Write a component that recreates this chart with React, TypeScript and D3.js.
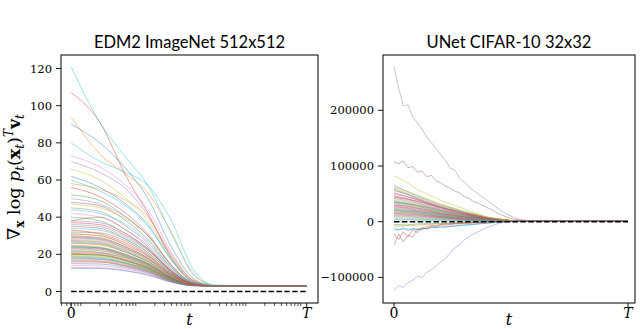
import React from 'react';
import * as d3 from 'd3';

// matplotlib tab10 cycle
const palette = [
  '#1f77b4', '#ff7f0e', '#2ca02c', '#d62728', '#9467bd',
  '#8c564b', '#e377c2', '#7f7f7f', '#bcbd22', '#17becf',
];

// --- EDM2 ImageNet 512x512 (log time axis) ---
const edmTimes = [0.006, 0.02, 0.06, 0.15, 0.4, 1, 2.5, 115];
const edmLines = [
  [90, 80, 66, 50, 24, 7, 3, 3],
  [94, 74, 63, 53, 32, 9, 3.2, 3],
  [52, 49, 40, 30, 14, 4.5, 3, 3],
  [107, 91, 62, 42, 18, 5.5, 3, 3],
  [70, 64, 55, 41, 19, 6, 3, 3],
  [48, 46, 38, 28, 13, 4.5, 3, 3],
  [73, 67, 57, 44, 21, 6, 3, 3],
  [45, 43, 35, 26, 12, 4.3, 3, 3],
  [66, 60, 50, 38, 18, 5.5, 3, 3],
  [121, 91, 72, 57, 31, 10, 3.3, 3],
  [62, 56, 47, 36, 17, 5, 3, 3],
  [58, 55, 49, 40, 20, 6, 3, 3],
  [40, 38, 31, 23, 11, 4, 3, 3],
  [56, 51, 42, 31, 14, 4.6, 3, 3],
  [38, 37, 31, 23, 10.5, 4, 3, 3],
  [35, 34, 28, 21, 10, 4, 3, 3],
  [42, 40, 33, 25, 11.5, 4.2, 3, 3],
  [31, 30, 25, 19, 9, 3.8, 3, 3],
  [47, 45, 39, 30, 14, 4.6, 3, 3],
  [80, 70, 64, 57, 38, 12, 3.4, 3],
  [29, 28, 23, 17.5, 8.5, 3.6, 3, 3],
  [25, 24, 20, 15, 7.5, 3.5, 3, 3],
  [22, 21, 18, 13.5, 7, 3.4, 3, 3],
  [33, 31, 26, 19.5, 9.5, 3.9, 3, 3],
  [27, 26, 21.5, 16, 8, 3.5, 3, 3],
  [20, 19.5, 16.5, 12.5, 6.5, 3.3, 3, 3],
  [24, 23, 19, 14.5, 7.3, 3.4, 3, 3],
  [36, 35, 29, 22, 10.5, 4, 3, 3],
  [26, 25, 21, 15.5, 7.7, 3.5, 3, 3],
  [44, 42, 36, 27, 12.5, 4.3, 3, 3],
  [18, 17.5, 15, 11.5, 6, 3.3, 3, 3],
  [21, 20.5, 17, 13, 6.8, 3.4, 3, 3],
  [30, 29, 24, 18, 8.8, 3.7, 3, 3],
  [16, 15.8, 13.5, 10.5, 5.6, 3.2, 3, 3],
  [23, 22, 18.5, 14, 7.2, 3.4, 3, 3],
  [32, 31.5, 27, 20, 9.5, 3.8, 3, 3],
  [14, 13.8, 12, 9.5, 5.2, 3.2, 3, 3],
  [19, 18.5, 15.5, 12, 6.2, 3.3, 3, 3],
  [28, 27, 22.5, 17, 8.3, 3.6, 3, 3],
  [34, 33, 28, 21, 10, 3.9, 3, 3],
  [12.5, 12.4, 11, 8.8, 5, 3.1, 3, 3],
  [17, 16.5, 14, 11, 5.8, 3.2, 3, 3],
  [24.5, 23.5, 19.5, 14.8, 7.4, 3.4, 3, 3],
  [20.5, 20, 16.8, 12.8, 6.6, 3.3, 3, 3],
  [50, 47, 40, 30, 14, 4.5, 3, 3],
  [38, 40, 33, 24, 11, 4, 3, 3],
  [13, 12.8, 11.3, 9, 5.1, 3.1, 3, 3],
  [27.5, 26.5, 22, 16.5, 8.1, 3.5, 3, 3],
  [22.5, 22, 18.5, 14, 7, 3.4, 3, 3],
  [26.5, 25.5, 21.2, 16, 7.9, 3.5, 3, 3],
  [15, 14.8, 12.8, 10, 5.4, 3.2, 3, 3],
  [31, 30, 25, 19, 9.2, 3.8, 3, 3],
  [18.5, 18, 15.2, 11.8, 6.1, 3.3, 3, 3],
  [37, 36, 30, 22.5, 10.8, 4, 3, 3],
  [21.5, 21, 17.6, 13.4, 6.9, 3.4, 3, 3],
  [23.5, 22.8, 19, 14.4, 7.2, 3.4, 3, 3],
  [28.5, 27.5, 23, 17.3, 8.5, 3.6, 3, 3],
  [16.5, 16.2, 13.8, 10.8, 5.8, 3.2, 3, 3],
  [19.5, 19, 16, 12.2, 6.3, 3.3, 3, 3],
  [60, 54, 46, 35, 17, 5, 3, 3],
  [24, 23.5, 19.8, 15, 7.4, 3.4, 3, 3],
  [26, 25.3, 21, 16, 7.9, 3.5, 3, 3],
  [20, 19.6, 16.5, 12.6, 6.5, 3.3, 3, 3],
  [29.5, 28.5, 23.8, 18, 8.7, 3.7, 3, 3],
  [17.5, 17.2, 14.5, 11.2, 5.9, 3.2, 3, 3],
];
const edmYTicks = [0, 20, 40, 60, 80, 100, 120];
const edmT0 = 0.006;
const edmT = 115;

// --- UNet CIFAR-10 32x32 (linear time axis, values in thousands) ---
const unetTimes = [0, 0.05, 0.1, 0.15, 0.2, 0.3, 0.4, 0.5, 1];
const unetLines = [
  [65, 55, 46, 38, 30, 18, 8, 2, 1.5],
  [60, 52, 44, 36, 29, 17, 7, 2, 1.5],
  [56, 50, 42, 34, 27, 16, 7, 2, 1.5],
  [52, 46, 39, 33, 26, 15, 6, 1.8, 1.5],
  [50, 45, 40, 32, 25, 14, 6, 1.8, 1.5],
  [47, 42, 36, 30, 23, 13, 5.5, 1.8, 1.5],
  [45, 40, 34, 28, 22, 12.5, 5, 1.7, 1.5],
  [42, 38, 33, 27, 21, 12, 5, 1.7, 1.5],
  [40, 36, 31, 26, 20, 11, 4.5, 1.7, 1.5],
  [38, 34, 30, 25, 19, 10.5, 4.5, 1.6, 1.5],
  [36, 33, 28, 23, 18, 10, 4, 1.6, 1.5],
  [34, 31, 27, 22, 17, 9.5, 4, 1.6, 1.5],
  [32, 29, 25, 21, 16, 9, 3.8, 1.6, 1.5],
  [30, 28, 24, 20, 15, 8.5, 3.6, 1.6, 1.5],
  [29, 26, 23, 19, 14.5, 8, 3.4, 1.5, 1.5],
  [27, 25, 21, 18, 14, 7.5, 3.2, 1.5, 1.5],
  [26, 23, 20, 17, 13, 7, 3, 1.5, 1.5],
  [24, 22, 19, 16, 12, 6.8, 3, 1.5, 1.5],
  [23, 21, 18, 15, 11.5, 6.5, 2.8, 1.5, 1.5],
  [21, 19, 17, 14, 11, 6, 2.7, 1.5, 1.5],
  [20, 18, 16, 13, 10, 5.7, 2.6, 1.5, 1.5],
  [18, 17, 15, 12, 9.5, 5.4, 2.5, 1.5, 1.5],
  [17, 16, 14, 11.5, 9, 5, 2.4, 1.5, 1.5],
  [15, 14, 12.5, 10.5, 8, 4.6, 2.3, 1.5, 1.5],
  [14, 13, 11.5, 9.5, 7.5, 4.3, 2.2, 1.5, 1.5],
  [12, 11.5, 10, 8.5, 6.8, 4, 2.1, 1.5, 1.5],
  [11, 10, 9, 7.5, 6, 3.6, 2, 1.5, 1.5],
  [9, 8.5, 7.5, 6.5, 5.2, 3.2, 1.9, 1.5, 1.5],
  [7, 6.8, 6, 5.2, 4.3, 2.8, 1.8, 1.5, 1.5],
  [5, 5, 4.5, 4, 3.5, 2.5, 1.7, 1.5, 1.5],
  [3, 3.2, 3, 2.8, 2.6, 2, 1.6, 1.5, 1.5],
  [-8, -7, -6, -5, -4, -2, 0, 1.2, 1.5],
  [-5, -6, -4, -3.5, -3, -1.5, 0.5, 1.3, 1.5],
  [44, 41, 37, 31, 25, 15, 6.5, 2, 1.5],
  [58, 50, 41, 33, 26, 14, 5, 1.8, 1.5],
  [35, 32, 29, 25, 20, 12, 5, 1.7, 1.5],
  [28, 24, 20, 16, 12, 6, 2.5, 1.5, 1.5],
  [22, 20, 18, 15.5, 12.5, 7, 3, 1.5, 1.5],
  [62, 56, 48, 40, 32, 19, 8, 2.2, 1.5],
  [-15, -13, -14, -11, -10, -6, -2, 1, 1.5],
];
// a few outlier trajectories, sampled more finely (thousands)
const unetNoisyTimes = [
  0, 0.02, 0.04, 0.06, 0.08, 0.1, 0.12, 0.14, 0.16, 0.18, 0.2,
  0.22, 0.24, 0.26, 0.28, 0.3, 0.32, 0.34, 0.36, 0.38, 0.4,
  0.42, 0.44, 0.46, 0.48, 0.5, 0.52, 0.54, 0.56, 0.58, 0.6, 1,
];
const unetGrey = [
  278, 240, 208, 210, 188, 178, 166, 152, 142, 131, 120,
  110, 96, 93, 78, 71, 63, 56, 50, 44, 38,
  31, 25, 19, 14, 10, 6.5, 4, 2.5, 2, 1.8, 1.5,
];
const unetBrown = [
  108, 104, 109, 97, 99, 89, 91, 81, 83, 73, 70,
  64, 60, 55, 52, 45, 42, 36, 33, 29, 25,
  21, 16, 12, 9, 6, 4, 2.5, 2, 1.8, 1.5, 1.5,
];
const unetOlive = [
  82, 79, 74, 69, 64, 58, 54, 50, 46, 42, 38,
  35, 32, 29, 26, 23, 20, 17, 14, 11, 8.5,
  6.5, 5, 3.5, 2.5, 2, 1.8, 1.6, 1.5, 1.5, 1.5, 1.5,
];
const unetPurple = [
  -123, -115, -118, -109, -105, -98, -100, -91, -86, -80, -72,
  -66, -56, -47, -41, -33, -27, -22, -18, -14, -10,
  -7, -4, -2, 0, 1, 1.2, 1.3, 1.4, 1.5, 1.5, 1.5,
];
const unetRedSpike = [
  -22, -32, -18, -27, -14, -20, -10, -13, -8, -9, -6,
  -6, -5, -4, -4, -3, -3, -2, -2, -1, -1,
  0, 0.5, 1, 1.2, 1.3, 1.4, 1.5, 1.5, 1.5, 1.5, 1.5,
];
const unetBrownSpike = [
  -42, -22, -36, -24, -28, -13, -15, -9, -7, -7, -5,
  -4, -4, -3, -3, -2, -2, -1.5, -1, -1, -0.5,
  0, 0.5, 1, 1.2, 1.3, 1.4, 1.5, 1.5, 1.5, 1.5, 1.5,
];
const unetBlueNeg = [
  -12, -15, -11, -16, -12, -14, -12, -13, -10, -11, -9,
  -10, -8, -8, -7, -6, -6, -5, -4, -3.5, -3,
  -2, -1.5, -1, -0.5, 0, 0.5, 1, 1.2, 1.3, 1.4, 1.5,
];
const unetNoisy = [unetBlueNeg, unetRedSpike, unetBrownSpike, unetOlive, unetBrown, unetGrey, unetPurple];
const unetNoisyColors = [0, 3, 5, 8, 5, 7, 4];
const unetYTicks = [-100, 0, 100, 200];

const serif = 'DejaVu Serif';

function Frame({ x0, x1, y0, y1 }) {
  return <rect x={x0} y={y0} width={x1 - x0} height={y1 - y0} fill="none" stroke="#000" strokeWidth={1} />;
}

export default function App() {
  // left panel
  const L = { x0: 61, x1: 318, y0: 55, y1: 303 };
  const xL = d3.scaleLog().domain([0.01, 100]).range([83.3, 303.3]);
  const yL = d3.scaleLinear().domain([0, 120]).range([291.5, 68.5]);
  const lineL = d3.line<number>()
    .x((_, i) => xL(edmTimes[i]))
    .y(d => yL(d))
    .curve(d3.curveMonotoneX);
  const minorL: number[] = [];
  [-3, -2, -1, 0, 1, 2].forEach(k => {
    for (let m = 2; m <= 9; m++) {
      const px = xL(m * Math.pow(10, k));
      if (px >= L.x0 && px <= L.x1) minorL.push(px);
    }
  });

  // right panel
  const R = { x0: 383, x1: 635, y0: 55, y1: 303 };
  const xR = d3.scaleLinear().domain([0, 1]).range([394, 628]);
  const yR = d3.scaleLinear().domain([0, 200]).range([221.7, 110.3]);
  const lineR = d3.line<number>()
    .x((_, i) => xR(unetTimes[i]))
    .y(d => yR(d));
  const lineN = d3.line<number>()
    .x((_, i) => xR(unetNoisyTimes[i]))
    .y(d => yR(d));
  const fmt = d3.format('d');

  const lw = 0.8;
  const op = 0.55;

  return (
    <svg width={640} height={329} style={{ position: 'absolute', left: 0, top: 0 }}>
      <rect width={640} height={329} fill="#fff" />

      {/* ---------- left panel ---------- */}
      <text x={(L.x0 + L.x1) / 2} y={48} textAnchor="middle" fontFamily="Lato" fontSize={16.5}>
        EDM2 ImageNet 512x512
      </text>
      <g>
        {edmLines.map((v, i) => (
          <path key={i} d={lineL(v) || ''} fill="none" stroke={palette[i % 10]} strokeWidth={lw} strokeOpacity={op} />
        ))}
      </g>
      <line x1={xL(edmT0)} x2={xL(edmT)} y1={yL(0)} y2={yL(0)} stroke="#000" strokeWidth={1.5} strokeDasharray="5.5,2.4" />
      <Frame {...L} />
      {edmYTicks.map(v => (
        <g key={v}>
          <line x1={L.x0 - 5} x2={L.x0} y1={yL(v)} y2={yL(v)} stroke="#000" strokeWidth={0.9} />
          <text x={L.x0 - 9} y={yL(v)} dy="0.35em" textAnchor="end" fontFamily={serif} fontSize={11.5}>{v}</text>
        </g>
      ))}
      {minorL.map((px, i) => (
        <line key={i} x1={px} x2={px} y1={L.y1} y2={L.y1 + 3} stroke="#000" strokeWidth={0.7} />
      ))}
      {[edmT0, edmT].map((t, i) => (
        <g key={i}>
          <line x1={xL(t)} x2={xL(t)} y1={L.y1} y2={L.y1 + 5} stroke="#000" strokeWidth={0.9} />
          <text x={xL(t)} y={318} textAnchor="middle" fontFamily={serif} fontSize={14} fontStyle={i ? 'italic' : 'normal'}>{i ? 'T' : '0'}</text>
        </g>
      ))}
      <text x={(L.x0 + L.x1) / 2} y={325} textAnchor="middle" fontFamily={serif} fontStyle="italic" fontSize={16}>t</text>
      <text transform="translate(20,177) rotate(-90)" textAnchor="middle" fontFamily={serif} fontSize={17.5}>
        <tspan>∇</tspan>
        <tspan fontWeight="bold" fontSize={12} dy={4}>x</tspan>
        <tspan dy={-4}> log </tspan>
        <tspan fontStyle="italic">p</tspan>
        <tspan fontStyle="italic" fontSize={12} dy={4}>t</tspan>
        <tspan dy={-4}>(</tspan>
        <tspan fontWeight="bold">x</tspan>
        <tspan fontStyle="italic" fontSize={12} dy={4}>t</tspan>
        <tspan dy={-4}>)</tspan>
        <tspan fontStyle="italic" fontSize={12} dy={-7}>T</tspan>
        <tspan fontWeight="bold" dy={7}>v</tspan>
        <tspan fontStyle="italic" fontSize={12} dy={4}>t</tspan>
      </text>

      {/* ---------- right panel ---------- */}
      <text x={(R.x0 + R.x1) / 2} y={48} textAnchor="middle" fontFamily="Lato" fontSize={16.5}>
        UNet CIFAR-10 32x32
      </text>
      <g>
        {unetLines.map((v, i) => (
          <path key={i} d={lineR(v) || ''} fill="none" stroke={palette[i % 10]} strokeWidth={lw} strokeOpacity={op} />
        ))}
        {unetNoisy.map((v, i) => (
          <path key={i} d={lineN(v) || ''} fill="none" stroke={palette[unetNoisyColors[i]]} strokeWidth={lw} strokeOpacity={op} />
        ))}
      </g>
      <line x1={xR(0)} x2={xR(1)} y1={yR(0)} y2={yR(0)} stroke="#000" strokeWidth={1.5} strokeDasharray="5.5,2.4" />
      <Frame {...R} />
      {unetYTicks.map(v => (
        <g key={v}>
          <line x1={R.x0 - 5} x2={R.x0} y1={yR(v)} y2={yR(v)} stroke="#000" strokeWidth={0.9} />
          <text x={R.x0 - 9} y={yR(v)} dy="0.35em" textAnchor="end" fontFamily={serif} fontSize={11.5}>{fmt(v * 1000)}</text>
        </g>
      ))}
      {[0, 1].map(t => (
        <g key={t}>
          <line x1={xR(t)} x2={xR(t)} y1={R.y1} y2={R.y1 + 5} stroke="#000" strokeWidth={0.9} />
          <text x={xR(t)} y={318} textAnchor="middle" fontFamily={serif} fontSize={14} fontStyle={t ? 'italic' : 'normal'}>{t ? 'T' : '0'}</text>
        </g>
      ))}
      <text x={(R.x0 + R.x1) / 2} y={325} textAnchor="middle" fontFamily={serif} fontStyle="italic" fontSize={16}>t</text>
    </svg>
  );
}
